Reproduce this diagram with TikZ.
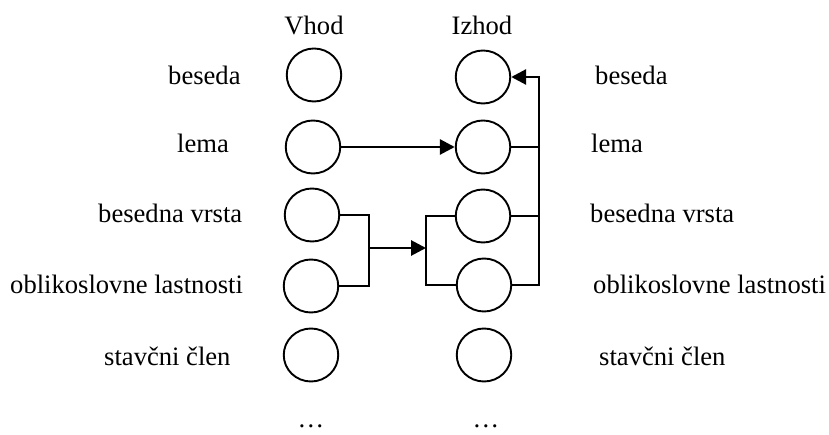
\documentclass[tikz,border=0pt]{standalone}
\usepackage{fontspec}
\setmainfont{Liberation Serif}
\usetikzlibrary{arrows.meta,shapes.geometric}
\begin{document}
\begin{tikzpicture}[x=1pt,y=-1pt,
  unit/.style={ellipse,draw,line width=1.9pt,minimum width=54.5pt,minimum height=53pt,inner sep=0pt},
  lbl/.style={anchor=base west,inner sep=0pt,font=\fontsize{26.6}{32}\selectfont},
  hdr/.style={anchor=base,inner sep=0pt,font=\fontsize{26.6}{32}\selectfont},
  thin/.style={line width=1.6pt},
  flow/.style={line width=2.9pt,-{Triangle[length=15pt,width=15pt]}}]
\useasboundingbox (0,0) rectangle (829,435);

% column headings
\node[hdr] (vhod) at (314,35) {Vhod};
\node[hdr] (izhod) at (482,35) {Izhod};

% input units
\node[unit] (L1) at (314,75) {};
\node[unit] (L2) at (313,147) {};
\node[unit] (L3) at (312,215) {};
\node[unit] (L4) at (311,286) {};
\node[unit] (L5) at (311,355) {};

% output units
\node[unit] (R1) at (483,77) {};
\node[unit] (R2) at (483,147) {};
\node[unit] (R3) at (483,216) {};
\node[unit] (R4) at (484,285) {};
\node[unit] (R5) at (484,355) {};

% input labels
\node[lbl] (li1) at (168,85) {beseda};
\node[lbl] (li2) at (177,153) {lema};
\node[lbl] (li3) at (98,223) {besedna vrsta};
\node[lbl] (li4) at (10,294) {oblikoslovne lastnosti};
\node[lbl] (li5) at (104,365) {stavčni člen};

% output labels
\node[lbl] (lo1) at (595,85) {beseda};
\node[lbl] (lo2) at (591,153) {lema};
\node[lbl] (lo3) at (590,223) {besedna vrsta};
\node[lbl] (lo4) at (593,294) {oblikoslovne lastnosti};
\node[lbl] (lo5) at (599,365) {stavčni člen};

% continuation marks
\node[hdr] (dl) at (311,427) {…};
\node[hdr] (dr) at (486,427) {…};

% lemma: direct copy
\draw[flow] (L2.east) -- (R2.west);

% word class + morphology: joined on both sides
\coordinate (jl) at (369,248);
\coordinate (jr) at (426,248);
\draw[thin] (L3.east) -- (L3.east -| jl) -- (L4.east -| jl) -- (L4.east);
\draw[flow] (jl) -- (jr);
\draw[thin] (R3.west) -- (R3.west -| jr) -- (R4.west -| jr) -- (R4.west);

% outputs feed back to the word form
\coordinate (bus) at (539,214);
\draw[thin] (R2.east) -- (R2.east -| bus);
\draw[thin] (R3.east) -- (R3.east -| bus);
\draw[thin] (R4.east) -- (R4.east -| bus) -- (bus);
\draw[flow] (bus) -- (R1.east -| bus) -- (R1.east);
\end{tikzpicture}
\end{document}
